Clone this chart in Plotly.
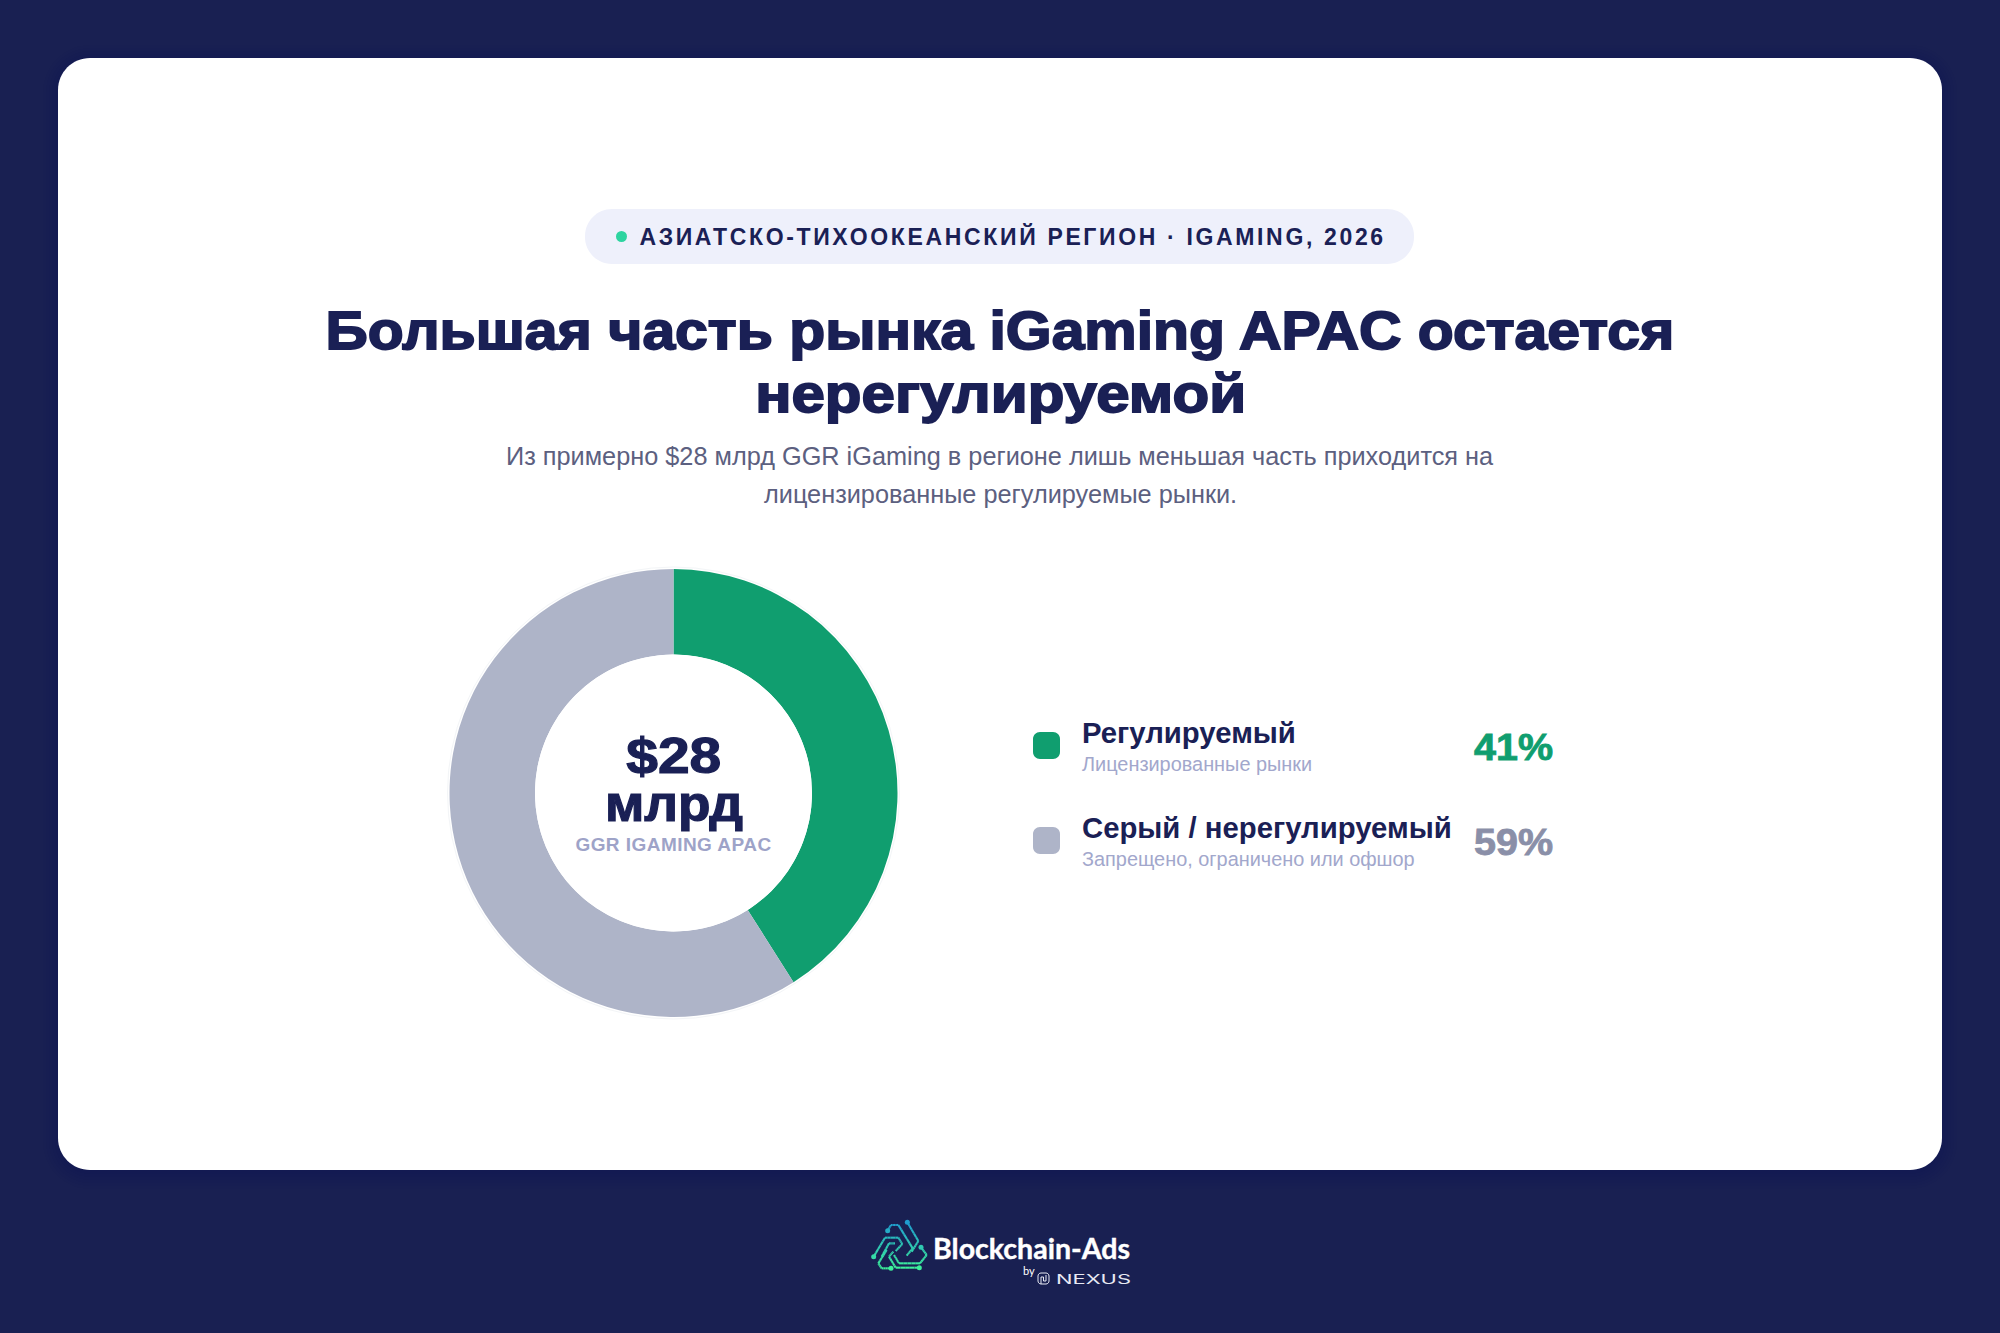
import plotly.graph_objects as go

# ---- data ----
categories = ["Регулируемый", "Серый / нерегулируемый"]
descriptions = ["Лицензированные рынки", "Запрещено, ограничено или офшор"]
values = [41, 59]
slice_colors = ["#109E6F", "#AEB4C8"]
pct_colors = ["#109E6F", "#8A8FA8"]
pill_text = "АЗИАТСКО-ТИХООКЕАНСКИЙ РЕГИОН · IGAMING, 2026"
title_lines = ["Большая часть рынка iGaming APAC остается", "нерегулируемой"]
subtitle_lines = ["Из примерно $28 млрд GGR iGaming в регионе лишь меньшая часть приходится на",
                  "лицензированные регулируемые рынки."]
center_lines = ["$28", "млрд"]
center_caption = "GGR IGAMING APAC"

W, H = 2000, 1333
NAVY = "#192052"
INK = "#1A2055"
SANS = "Liberation Sans, Arial, sans-serif"
CX, CY, R_OUT, R_IN = 673.5, 793, 224, 138.5

fig = go.Figure()
fig.add_trace(go.Pie(
    labels=categories, values=values, hole=R_IN / R_OUT, sort=False, direction="clockwise", rotation=0,
    marker=dict(colors=slice_colors, line=dict(width=0)), textinfo="none", showlegend=False, hoverinfo="label+percent",
    domain=dict(x=[(CX - R_OUT) / W, (CX + R_OUT) / W], y=[1 - (CY + R_OUT) / H, 1 - (CY - R_OUT) / H]),
))

def rrect(x0, y0, x1, y1, r):
    k = r * 0.4477
    return (f"M{x0+r},{y0} L{x1-r},{y0} C{x1-k},{y0} {x1},{y0+k} {x1},{y0+r} L{x1},{y1-r} C{x1},{y1-k} {x1-k},{y1} {x1-r},{y1} "
            f"L{x0+r},{y1} C{x0+k},{y1} {x0},{y1-k} {x0},{y1-r} L{x0},{y0+r} C{x0},{y0+k} {x0+k},{y0} {x0+r},{y0} Z")

shapes = []
def path(d, fill, layer="below"):
    shapes.append(dict(type="path", path=d, fillcolor=fill, line=dict(width=0), layer=layer, xref="x", yref="y"))
def circle(cx, cy, r, fill, line=None, layer="below"):
    shapes.append(dict(type="circle", x0=cx-r, x1=cx+r, y0=cy-r, y1=cy+r, fillcolor=fill, layer=layer,
                       line=dict(width=1, color=line) if line else dict(width=0), xref="x", yref="y"))

# card, pill
for i in range(6):
    path(rrect(58 - 3*i, 60 - 3*i, 1942 + 3*i, 1174 + 3*i, 32 + 3*i), "rgba(10,14,50,0.012)")
path(rrect(58, 58, 1942, 1170, 32), "#FFFFFF")
path(rrect(585, 209, 1414, 264, 27), "#EEF0FB")
circle(621.5, 236.5, 5.5, "#2DD4A0")
# donut halo + inner shadow
circle(CX, CY, R_OUT + 2, "#FFFFFF", line="#F3F5F7")
for i in range(8):
    circle(CX, CY + 5, R_IN + 24 - 3*i, "rgba(26,31,84,0.0015)", layer="above")
circle(CX, CY, R_IN, "#FFFFFF", layer="above")

ann = []
def text(x, y, s, size, color, anchor="center", bold=False, font=SANS):
    ann.append(dict(x=x, y=y, xref="x", yref="y", text=s, showarrow=False,
                    xanchor=anchor, yanchor="middle", align=anchor,
                    font=dict(family=font, size=size, color=color, weight=700 if bold else 400)))

text(1012, 236, pill_text, 23, INK, bold=True)
text(1000, 330, title_lines[0], 54, INK, bold=True)
text(1000, 393, title_lines[1], 54, INK, bold=True)
text(1000, 456, subtitle_lines[0], 25.3, "#5C6080")
text(1000, 494, subtitle_lines[1], 25.3, "#5C6080")
text(673.5, 756, center_lines[0], 50, INK, bold=True)
text(673.5, 804, center_lines[1], 50, INK, bold=True)
text(673.5, 844, center_caption, 19, "#9EA3C8", bold=True)

rows_y = [745.5, 840.5]
for i, cat in enumerate(categories):
    y = rows_y[i]
    path(rrect(1033, y - 13.5, 1060, y + 13.5, 7), slice_colors[i])
    text(1080, y - 13, cat, 29.3, INK, anchor="left", bold=True)
    text(1080, y + 18, descriptions[i], 19.9, "#A2A7CC", anchor="left")
    text(1554.5, y + 2, f"{values[i]}%", 36, pct_colors[i], anchor="right", bold=True)

# footer logo (drawn as a small vertical-gradient circuit triangle)
def z(px, py):
    return 865 + px / 3, 1215 + py / 3
def grad(py):
    t = max(0, min(1, (py - 20) / 140))
    a, b = (31, 155, 208), (61, 240, 154)
    return "rgb({},{},{})".format(*[round(a[i] + (b[i] - a[i]) * t) for i in range(3)])
logo_paths = [
    [(127, 22), (160, 78), (140, 110)],
    [(68, 47), (78, 30), (100, 30), (143, 100), (125, 122)],
    [(26, 125), (60, 68), (100, 68), (112, 87), (92, 108)],
    [(50, 125), (72, 85), (90, 85)],
    [(78, 160), (50, 160), (40, 145), (65, 105)],
    [(163, 158), (92, 158), (72, 125), (85, 110)],
    [(168, 97), (185, 120), (165, 145), (102, 145), (87, 120)],
]
for pts in logo_paths:
    for (x0, y0), (x1, y1) in zip(pts, pts[1:]):
        n = 5
        for j in range(n):
            a = z(x0 + (x1 - x0) * j / n, y0 + (y1 - y0) * j / n)
            b = z(x0 + (x1 - x0) * (j + 1) / n, y0 + (y1 - y0) * (j + 1) / n)
            shapes.append(dict(type="line", x0=a[0], y0=a[1], x1=b[0], y1=b[1], layer="below", xref="x", yref="y",
                               line=dict(color=grad(y0 + (y1 - y0) * (j + .5) / n), width=2.1)))
for px, py in [(127, 22), (68, 47), (26, 125), (78, 160), (163, 158), (168, 97)]:
    circle(*z(px, py), 2.5, grad(py))
text(931, 1248, "Blockchain-Ads", 28.5, "#FFFFFF", anchor="left", bold=True, font="Lato, Noto Sans, sans-serif")
text(1021, 1270, "by", 11, "#FFFFFF", anchor="left", font="Lato, sans-serif")
text(1053.5, 1278.5, "NEXUS", 13, "#E8EAF4", anchor="left", font="Inter, sans-serif")
shapes.append(dict(type="path", path=rrect(1038, 1273, 1049, 1284, 3), line=dict(color="#E8EAF4", width=1),
                   fillcolor="rgba(0,0,0,0)", layer="below", xref="x", yref="y"))
shapes.append(dict(type="path", path="M1041,1284 L1041,1277 L1043.5,1277 L1043.5,1281 L1046,1281 L1046,1275",
                   line=dict(color="#E8EAF4", width=1), layer="below", xref="x", yref="y"))

fig.update_layout(
    width=W, height=H, margin=dict(l=0, r=0, t=0, b=0), paper_bgcolor=NAVY, plot_bgcolor=NAVY,
    xaxis=dict(range=[0, W], visible=False, fixedrange=True),
    yaxis=dict(range=[H, 0], visible=False, fixedrange=True),
    shapes=shapes, annotations=ann, showlegend=False,
)

post = """
document.documentElement.style.margin='0';document.body.style.margin='0';document.body.style.background='#192052';
var spacing={'АЗИАТСКО':'2.65px','GGR IG':'0.45px'};
var stretch={'Большая':[1349,'1.8px'],'нерегулируемой':[491,'1.8px'],'$28':[95,'1.2px'],'млрд':[138,'1.2px'],
             '41%':[79,'0.8px'],'59%':[79,'0.8px'],'Blockchain':[197,'0.4px'],'NEXUS':[75,'0px']};
document.querySelectorAll('.annotation-text').forEach(function(t){
  var s=t.textContent;
  Object.keys(spacing).forEach(function(k){if(s.indexOf(k)===0){t.style.letterSpacing=spacing[k];}});
  Object.keys(stretch).forEach(function(k){if(s.indexOf(k)===0){
    t.setAttribute('textLength',stretch[k][0]);t.setAttribute('lengthAdjust','spacingAndGlyphs');
    t.style.stroke=t.style.fill;t.style.strokeWidth=stretch[k][1];
  }});
});
"""
fig.write_html("out.html", post_script=post, config=dict(displayModeBar=False))
